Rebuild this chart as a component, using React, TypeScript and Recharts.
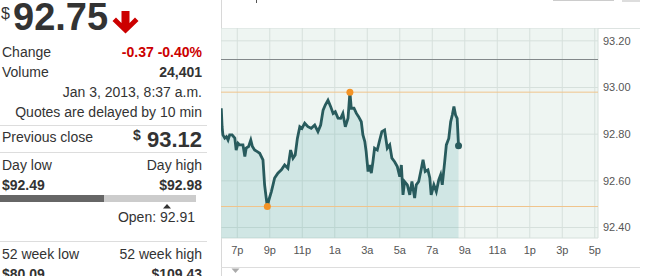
import React from 'react';
import {
  ComposedChart,
  Area,
  XAxis,
  YAxis,
  CartesianGrid,
  ReferenceLine,
  ReferenceDot,
} from 'recharts';

// intraday quotes, Jan 2 6p -> Jan 3 8:37a
const times = [
  '18:01', '18:04', '18:07', '18:14', '18:20', '18:26', '18:32', '18:41', '18:51', '18:56',
  '19:03', '19:09', '19:21', '19:28', '19:33', '19:42', '19:50', '19:56', '20:04', '20:14',
  '20:23', '20:29', '20:35', '20:41', '20:47', '20:51', '20:57', '21:06', '21:12', '21:18',
  '21:30', '21:43', '21:55', '22:07', '22:17', '22:26', '22:34', '22:42', '22:51', '22:59',
  '23:09', '23:21', '23:33', '23:46', '23:58', '00:08', '00:17', '00:25', '00:35', '00:45',
  '00:54', '01:02', '01:12', '01:22', '01:30', '01:39', '01:49', '01:56', '02:01', '02:11',
  '02:20', '02:28', '02:38', '02:44', '02:51', '02:56', '03:03', '03:09', '03:15', '03:21',
  '03:27', '03:37', '03:46', '03:54', '04:04', '04:14', '04:23', '04:31', '04:41', '04:51',
  '05:00', '05:06', '05:12', '05:18', '05:28', '05:37', '05:45', '05:55', '06:01', '06:10',
  '06:20', '06:26', '06:34', '06:44', '06:51', '06:56', '07:06', '07:15', '07:24', '07:31',
  '07:37', '07:46', '07:52', '08:01', '08:08', '08:14', '08:20', '08:26', '08:32', '08:37',
];

const prices = [
  92.911, 92.832, 92.797, 92.783, 92.789, 92.775, 92.797, 92.797, 92.783, 92.732,
  92.761, 92.754, 92.754, 92.704, 92.74, 92.747, 92.775, 92.747, 92.732, 92.725,
  92.718, 92.704, 92.69, 92.583, 92.526, 92.49, 92.519, 92.554, 92.583, 92.612,
  92.633, 92.647, 92.668, 92.654, 92.732, 92.697, 92.711, 92.782, 92.832, 92.825,
  92.847, 92.832, 92.825, 92.839, 92.811, 92.839, 92.903, 92.925, 92.946, 92.918,
  92.889, 92.896, 92.869, 92.868, 92.889, 92.832, 92.868, 92.98, 92.911, 92.911,
  92.889, 92.875, 92.853, 92.797, 92.768, 92.725, 92.64, 92.668, 92.633, 92.682,
  92.74, 92.732, 92.775, 92.811, 92.818, 92.74, 92.754, 92.697, 92.682, 92.661,
  92.618, 92.668, 92.54, 92.597, 92.583, 92.54, 92.597, 92.526, 92.583, 92.597,
  92.654, 92.69, 92.64, 92.647, 92.612, 92.54, 92.583, 92.554, 92.604, 92.626,
  92.583, 92.682, 92.754, 92.782, 92.853, 92.882, 92.918, 92.882, 92.868, 92.75,
];

const xTicks = [19, 21, 23, 25, 27, 29, 31, 33, 35, 37, 39, 41];
const yTicks = [92.4, 92.6, 92.8, 93.0, 93.2];

const prevClose = 93.12;
const dayLow = 92.49;
const dayHigh = 92.98;

// hours since midnight Jan 2 (morning hours roll to next day)
const toHour = (s: string) => {
  const [h, m] = s.split(':').map(Number);
  return (h < 18 ? h + 24 : h) + m / 60;
};

const data = times.map((t, i) => ({ t: toHour(t), v: prices[i] }));
const lowIdx = prices.indexOf(Math.min(...prices));
const highIdx = prices.indexOf(Math.max(...prices));
const last = data[data.length - 1];

const fmtHour = (t: number) => {
  const h = t % 24;
  const hh = h % 12 === 0 ? 12 : h % 12;
  return `${hh}${h < 12 ? 'a' : 'p'}`;
};

const FONT = '"Liberation Sans", Arial, sans-serif';
const abs = (left: number, top: number, extra: React.CSSProperties = {}): React.CSSProperties => ({
  position: 'absolute',
  left,
  top,
  lineHeight: 1,
  whiteSpace: 'nowrap',
  ...extra,
});

const Row = ({ top, left, right, bold, red, size = 14 }: any) => (
  <div style={abs(2, top, { width: 200, display: 'flex', justifyContent: 'space-between', fontSize: size })}>
    <span>{left}</span>
    <span style={{ fontWeight: bold ? 'bold' : 'normal', color: red ? '#c00' : '#333' }}>{right}</span>
  </div>
);

const Sep = ({ top }: { top: number }) => (
  <div style={abs(0, top, { width: 207, height: 1, background: '#ddd' })} />
);

function QuotePanel() {
  return (
    <>
      <div style={abs(1, 6, { fontSize: 16 })}>$</div>
      <div style={abs(13, 0, { fontSize: 38, fontWeight: 'bold', lineHeight: '34px' })}>92.75</div>
      <svg style={{ position: 'absolute', left: 0, top: 0 }} width={150} height={40}>
        <path d="M121.5,11 H129.5 V23 L135,17.5 L138.5,21 L125.5,33.5 L112.5,21 L116,17.5 L121.5,23 Z" fill="#c00" />
      </svg>
      <Row top={44.5} left="Change" right="-0.37 -0.40%" bold red />
      <Row top={64.5} left="Volume" right="24,401" bold />
      <div style={abs(2, 84.6, { width: 200, textAlign: 'right', fontSize: 14 })}>Jan 3, 2013, 8:37 a.m.</div>
      <div style={abs(2, 104.5, { width: 200, textAlign: 'right', fontSize: 14 })}>Quotes are delayed by 10 min</div>
      <Sep top={125} />
      <div style={abs(2, 130, { fontSize: 14 })}>Previous close</div>
      <div style={abs(133, 127.5, { fontSize: 14, fontWeight: 'bold' })}>$</div>
      <div style={abs(2, 128.7, { width: 200, textAlign: 'right', fontSize: 22, fontWeight: 'bold' })}>93.12</div>
      <Sep top={152} />
      <Row top={158.2} left="Day low" right="Day high" />
      <div style={abs(2, 178.2, { width: 200, display: 'flex', justifyContent: 'space-between', fontSize: 14, fontWeight: 'bold' })}>
        <span>$92.49</span>
        <span>$92.98</span>
      </div>
      <div style={abs(0, 195, { width: 104, height: 7, background: '#666' })} />
      <div style={abs(104, 195, { width: 92, height: 7, background: '#ccc' })} />
      <svg style={{ position: 'absolute', left: 160, top: 202 }} width={14} height={8}>
        <path d="M3,6.5 L7,2 L11,6.5 Z" fill="#333" />
      </svg>
      <div style={abs(2, 209.8, { width: 193, textAlign: 'right', fontSize: 14 })}>Open: 92.91</div>
      <Sep top={241} />
      <Row top={246.5} left="52 week low" right="52 week high" />
      <div style={abs(2, 267.2, { width: 200, display: 'flex', justifyContent: 'space-between', fontSize: 14, fontWeight: 'bold' })}>
        <span>$80.09</span>
        <span>$109.43</span>
      </div>
    </>
  );
}

function PriceChart() {
  return (
    <div style={{ position: 'absolute', left: 221, top: 28 }}>
      <ComposedChart width={377 + 42} height={210 + 29} data={data} margin={{ top: 0, right: 0, bottom: 0, left: 0 }}>
        <CartesianGrid stroke="#d6e0dc" fill="#eef5f2" />
        <XAxis
          dataKey="t"
          type="number"
          domain={[18, 41.2]}
          ticks={xTicks}
          interval={0}
          allowDataOverflow
          tickFormatter={fmtHour}
          axisLine={false}
          tickLine={false}
          height={29}
          tick={{ fontSize: 11, fill: '#555', fontFamily: FONT }}
        />
        <YAxis
          orientation="right"
          type="number"
          domain={[92.355, 93.255]}
          ticks={yTicks}
          interval={0}
          allowDataOverflow
          tickFormatter={(v: number) => v.toFixed(2)}
          axisLine={false}
          tickLine={false}
          tickSize={5}
          tickMargin={0}
          width={42}
          tick={{ fontSize: 11, fill: '#555', fontFamily: FONT }}
        />
        <Area
          type="linear"
          dataKey="v"
          stroke="#285b5d"
          strokeWidth={2.8}
          strokeLinejoin="miter"
          fill="#3a9d9a"
          fillOpacity={0.16}
          dot={false}
          activeDot={false}
          isAnimationActive={false}
        />
        <ReferenceLine y={prevClose} stroke="#82888a" strokeWidth={1} />
        <ReferenceLine y={dayHigh} stroke="#f0c48c" strokeWidth={1} />
        <ReferenceLine y={dayLow} stroke="#f0c48c" strokeWidth={1} />
        <ReferenceDot x={data[lowIdx].t} y={dayLow} r={3.5} fill="#f39326" stroke="none" />
        <ReferenceDot x={data[highIdx].t} y={dayHigh} r={3.5} fill="#f39326" stroke="none" />
        <ReferenceDot x={last.t} y={last.v} r={3.5} fill="#285b5d" stroke="none" />
      </ComposedChart>
    </div>
  );
}

export default function App() {
  return (
    <div
      style={{
        position: 'absolute',
        left: 0,
        top: 0,
        width: 650,
        height: 276,
        overflow: 'hidden',
        background: '#fff',
        fontFamily: FONT,
        color: '#333',
      }}
    >
      <QuotePanel />
      {/* chart frame */}
      <div style={abs(221, 0, { width: 1, height: 276, background: '#d8d8d8' })} />
      <div style={abs(221, 28, { width: 419, height: 1, background: '#dde3e1' })} />
      <div style={abs(221, 267, { width: 419, height: 1, background: '#dddddd' })} />
      <div style={abs(256, 0, { width: 1, height: 3, background: '#555' })} />
      <div style={abs(553, 0, { width: 61, height: 1, background: '#ccc' })} />
      <div style={abs(622, 0, { width: 18, height: 2, background: '#ddd' })} />
      <svg style={{ position: 'absolute', left: 230, top: 267 }} width={12} height={8}>
        <path d="M1.5,1.5 L9.5,1.5 L5.5,6 Z" fill="#aaa" />
      </svg>
      <PriceChart />
    </div>
  );
}
